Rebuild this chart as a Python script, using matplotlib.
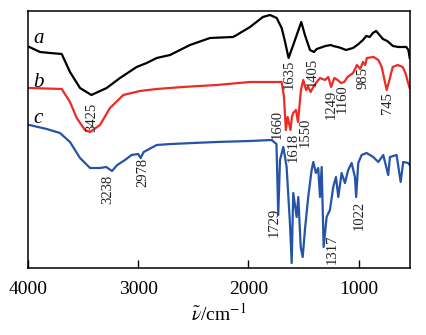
import numpy as np
import matplotlib.pyplot as plt

# FTIR spectra, wavenumber (cm-1) vs. offset transmittance (arb. units)
wn_a = [3988, 3891, 3800, 3694, 3619, 3528, 3425, 3286, 3165, 3014, 2923, 2832,
        2711, 2530, 2348, 2140, 2106, 1985, 1868, 1804, 1743, 1698, 1671, 1635,
        1577, 1520, 1487, 1441, 1405, 1380, 1353, 1300, 1250, 1232, 1190, 1160,
        1114, 1050, 1000, 960, 930, 899, 870, 840, 810, 779, 740, 688, 640, 567,
        548, 536]
t_a = [221, 216, 215, 214, 196, 180, 173, 180, 190, 201, 205, 210,
       213, 223, 230, 231, 233, 241, 251, 253, 250, 240, 228, 210,
       228, 246, 233, 218, 216, 219, 220, 222, 223, 222, 221, 220,
       218, 220, 224, 228, 232, 231, 235, 237, 233, 229, 227, 222, 221, 221,
       218, 210]

wn_b = [3988, 3694, 3619, 3558, 3483, 3437, 3347, 3256, 3135, 2984, 2832, 2594,
        2288, 1986, 1743, 1698, 1677, 1660, 1644, 1618, 1605, 1593, 1568, 1550,
        1523, 1502, 1477, 1457, 1435, 1411, 1380, 1350, 1305, 1275, 1249, 1220,
        1190, 1160, 1130, 1100, 1050, 1015, 985, 960, 940, 925, 865, 820, 790,
        765, 745, 720, 690, 645, 600, 575, 550, 536]
t_b = [180, 179, 166, 150, 138, 136, 143, 160, 173, 177, 179, 181,
       183, 186, 186, 186, 171, 138, 151, 138, 151, 155, 158, 146,
       178, 188, 178, 181, 176, 181, 186, 190, 188, 191, 181, 190,
       188, 185, 186, 191, 195, 203, 199, 206, 203, 210, 211, 208, 201,
       188, 178, 188, 201, 203, 201, 195, 185, 180]

wn_c = [3988, 3830, 3710, 3619, 3528, 3437, 3347, 3290, 3238, 3190, 3120, 3060,
        3000, 2978, 2950, 2832, 2700, 2500, 2288, 1986, 1790, 1745, 1729, 1713,
        1683, 1653, 1623, 1607, 1593, 1562, 1547, 1525, 1507, 1487, 1457, 1426,
        1411, 1387, 1366, 1350, 1335, 1317, 1290, 1260, 1230, 1205, 1184, 1154,
        1124, 1094, 1063, 1033, 1022, 1003, 972, 927, 867, 821, 776, 731, 715,
        655, 618, 595, 549, 536]
t_c = [143, 139, 135, 126, 110, 100, 100, 101, 97, 103, 108, 113,
       114, 110, 116, 123, 124, 125, 126, 127, 128, 124, 53, 108,
       121, 101, 45, 5, 75, 51, 71, 21, 11, 38, 71, 98,
       106, 95, 100, 71, 101, 21, 51, 58, 81, 91, 71, 95,
       85, 98, 105, 91, 71, 105, 113, 115, 111, 106, 113, 93, 111,
       113, 86, 106, 105, 103]

# peak labels: text, x position (cm-1), y centre
peak_text = ['3425', '1635', '1405', '1660', '1618', '1550', '1249', '1160',
             '985', '745', '3238', '2978', '1729', '1317', '1022']
peak_x = [3425, 1630, 1423, 1736, 1591, 1487, 1252, 1145,
          960, 738, 3280, 2957, 1768, 1237, 990]
peak_y = [151, 194, 196, 144, 121, 136, 164, 169,
          190, 165, 79, 96, 46, 19, 53]

serif = 'Liberation Serif'
plt.rcParams['font.family'] = serif
plt.rcParams['mathtext.fontset'] = 'stix'

fig = plt.figure(figsize=(4.27, 3.35), dpi=100)
ax = fig.add_axes([28 / 427, 0.2, (409.7 - 28) / 427, 0.7672])

ax.plot(wn_a, t_a, color='black', lw=1.6)
ax.plot(wn_b, t_b, color='#ee2a24', lw=1.6)
ax.plot(wn_c, t_c, color='#2553a8', lw=1.6)

for s, x, y in zip(peak_text, peak_x, peak_y):
    ax.text(x, y, s, rotation=90, ha='center', va='center',
            fontsize=10.5, color='#222222')

for s, y in zip(['a', 'b', 'c'], [225, 181, 145]):
    ax.text(3955, y, s, style='italic', fontsize=15,
            ha='left', va='baseline')

ax.set_xlim(4000, 536)
ax.set_ylim(0, 257)
ax.set_xticks([4000, 3000, 2000, 1000])
ax.set_yticks([])
ax.tick_params(axis='x', direction='in', length=6, width=1.0, pad=9,
               labelsize=14)
for sp in ax.spines.values():
    sp.set_linewidth(1.1)

ax.set_xlabel(r'$\tilde{\nu}$/cm$^{-1}$', fontsize=14, labelpad=4)

fig.savefig('out.png', dpi=100, facecolor='white')
